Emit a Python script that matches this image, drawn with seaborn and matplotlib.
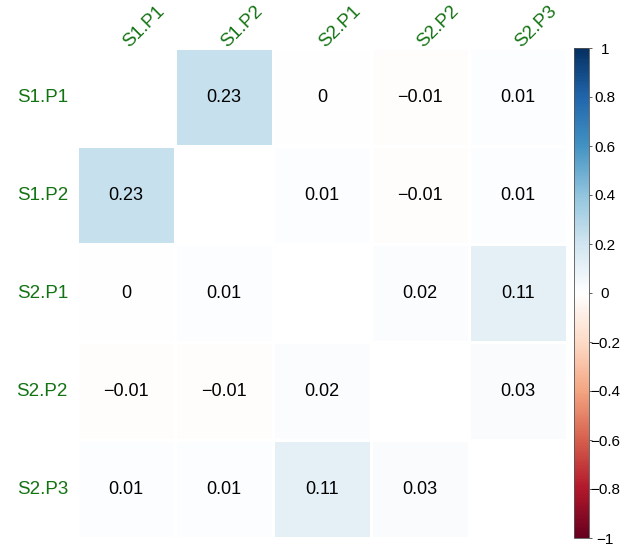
import numpy as np
import pandas as pd
import matplotlib.pyplot as plt
import seaborn as sns
from matplotlib.colors import LinearSegmentedColormap

# variabilele si corelatiile dintre ele
etichete = ['S1.P1', 'S1.P2', 'S2.P1', 'S2.P2', 'S2.P3']
rand_s1p1 = [1.00, 0.23, 0.00, -0.01, 0.01]
rand_s1p2 = [0.23, 1.00, 0.01, -0.01, 0.01]
rand_s2p1 = [0.00, 0.01, 1.00, 0.02, 0.11]
rand_s2p2 = [-0.01, -0.01, 0.02, 1.00, 0.03]
rand_s2p3 = [0.01, 0.01, 0.11, 0.03, 1.00]
bara_ticks = [-1, -0.8, -0.6, -0.4, -0.2, 0, 0.2, 0.4, 0.6, 0.8, 1]

corr = pd.DataFrame([rand_s1p1, rand_s1p2, rand_s2p1, rand_s2p2, rand_s2p3],
                    index=etichete, columns=etichete)

# diagonala nu se deseneaza
masca = np.eye(len(etichete), dtype=bool)

# paleta rosu-alb-albastru cu alb pur la mijloc
culori = ['#67001F', '#B2182B', '#D6604D', '#F4A582', '#FDDBC7', '#FFFFFF',
          '#D1E5F0', '#92C5DE', '#4393C3', '#2166AC', '#053061']
paleta = LinearSegmentedColormap.from_list('rdbu_alb', culori, N=256)


def formatare(v):
    s = f'{v:.2f}'.rstrip('0').rstrip('.')
    if s in ('-0', '0'):
        return '0'
    return s.replace('-', '\u2212')


texte = corr.apply(lambda col: col.map(formatare))

plt.rcParams['font.family'] = ['Liberation Sans', 'DejaVu Sans']
plt.rcParams['axes.unicode_minus'] = True

fig = plt.figure(figsize=(6.44, 5.46), dpi=100)
ax = fig.add_axes([77 / 644, 8 / 546, 490 / 644, 490 / 546])
cax = fig.add_axes([574 / 644, 8 / 546, 15 / 644, 490 / 546])

sns.heatmap(corr, mask=masca, cmap=paleta, vmin=-1, vmax=1, annot=texte.values, fmt='',
            annot_kws={'fontsize': 13, 'color': 'black'}, linewidths=1, linecolor='white',
            ax=ax, cbar_ax=cax, cbar_kws={'ticks': bara_ticks}, square=False)

# etichetele de sus, rotite
ax.xaxis.tick_top()
ax.set_xticklabels(etichete, rotation=45, ha='left', va='center', rotation_mode='anchor',
                   color='#137313', fontsize=13.5)
ax.set_yticklabels(etichete, rotation=0, color='#137313', fontsize=13.5)
ax.tick_params(axis='both', length=0)
ax.tick_params(axis='x', pad=2)
ax.tick_params(axis='y', pad=6.5)
ax.set_xlabel('')
ax.set_ylabel('')

# bara de culori
cax.set_yticklabels([f'{t:g}'.replace('-', '\u2212') for t in bara_ticks], ha='center')
cax.tick_params(labelsize=11, length=2.5, width=0.6, color='#444444', pad=9)
cb = ax.collections[0].colorbar
cb.outline.set_linewidth(0.6)
cb.outline.set_edgecolor('#555555')

fig.savefig('out.png', dpi=100)
